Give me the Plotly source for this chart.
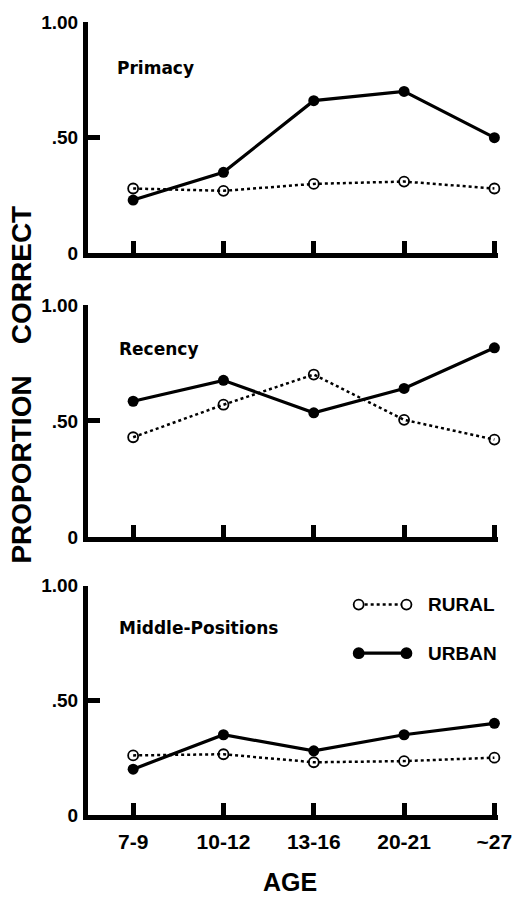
"""
Proportion correct by age: rural vs urban, three serial-position panels.
"""

import plotly.graph_objects as go
from plotly.subplots import make_subplots

AGES = ["7-9", "10-12", "13-16", "20-21", "~27"]
PANELS = ["Primacy", "Recency", "Middle-Positions"]

RURAL_PRIMACY = [0.28, 0.27, 0.30, 0.31, 0.28]
URBAN_PRIMACY = [0.23, 0.35, 0.66, 0.70, 0.50]
RURAL_RECENCY = [0.43, 0.57, 0.70, 0.505, 0.42]
URBAN_RECENCY = [0.585, 0.675, 0.535, 0.64, 0.815]
RURAL_MIDDLE = [0.26, 0.265, 0.23, 0.235, 0.25]
URBAN_MIDDLE = [0.20, 0.35, 0.28, 0.35, 0.40]

Y_TICKS = [0, 0.5, 1.0]
Y_TICK_TEXT = ["0", ".50", "1.00"]

SERIES = [
    (RURAL_PRIMACY, URBAN_PRIMACY),
    (RURAL_RECENCY, URBAN_RECENCY),
    (RURAL_MIDDLE, URBAN_MIDDLE),
]

FONT = "Liberation Sans"
TITLE_FONT = "DejaVu Sans"

W, H = 524, 897
ML, MR, MT, MB = 88, 24, 16, 82
PW, PH = W - ML - MR, H - MT - MB


def px_x(x):
    return (x - ML) / PW


def px_y(y):
    return (H - MB - y) / PH


DOMAINS = [
    [px_y(249), 1.0],
    [px_y(535), px_y(301)],
    [0.0, px_y(584)],
]

fig = make_subplots(rows=3, cols=1)

for i, (rural, urban) in enumerate(SERIES, start=1):
    fig.add_trace(go.Scatter(
        x=list(range(len(AGES))), y=rural, mode="lines+markers",
        line=dict(color="black", width=2.5, dash="dot"),
        marker=dict(symbol="circle-open", size=10, color="black", line=dict(width=1.8)),
        cliponaxis=False, showlegend=False, name="RURAL",
    ), row=i, col=1)
    fig.add_trace(go.Scatter(
        x=list(range(len(AGES))), y=urban, mode="lines+markers",
        line=dict(color="black", width=3.2),
        marker=dict(symbol="circle", size=11, color="black"),
        cliponaxis=False, showlegend=False, name="URBAN",
    ), row=i, col=1)

for i in range(1, 4):
    fig.update_xaxes(
        row=i, col=1,
        range=[-0.5, 4.04],
        tickvals=list(range(len(AGES))), ticktext=AGES,
        showticklabels=(i == 3),
        ticks="inside", ticklen=12, tickwidth=5, tickcolor="black",
        showline=True, linewidth=5, linecolor="black",
        showgrid=False, zeroline=False,
        tickfont=dict(family=FONT, size=21, color="black", weight="bold"),
        ticklabelstandoff=4,
    )
    fig.update_yaxes(
        row=i, col=1,
        domain=DOMAINS[i - 1],
        range=[0, 1.0],
        tickvals=Y_TICKS, ticktext=Y_TICK_TEXT,
        ticks="inside", ticklen=12, tickwidth=5, tickcolor="black",
        showline=True, linewidth=5, linecolor="black",
        showgrid=False, zeroline=False,
        tickfont=dict(family=FONT, size=19, color="black", weight="bold"),
        ticklabelstandoff=1,
    )

# panel labels
label_pos = [(115, 62), (117, 345), (117, 627)]
for name, (lx, ly) in zip(PANELS, label_pos):
    fig.add_annotation(
        text=name, xref="paper", yref="paper", x=px_x(lx), y=px_y(ly),
        xanchor="left", yanchor="middle", showarrow=False,
        font=dict(family=TITLE_FONT, size=17, color="black", weight="bold"),
    )

# legend drawn by hand: line sample with a marker at each end
legend_rows = [("RURAL", 603, "dot", 2.5, "white"), ("URBAN", 652, "solid", 3.2, "black")]
for text, ly, dash, lw, fill in legend_rows:
    fig.add_shape(type="line", xref="paper", yref="paper",
                  x0=px_x(360), x1=px_x(408), y0=px_y(ly), y1=px_y(ly),
                  line=dict(color="black", width=lw, dash=dash))
    for cx in (360, 408):
        fig.add_shape(type="circle", xref="paper", yref="paper",
                      xsizemode="pixel", ysizemode="pixel",
                      xanchor=px_x(cx), yanchor=px_y(ly),
                      x0=-5, x1=5, y0=-5, y1=5,
                      fillcolor=fill, line=dict(color="black", width=1.8))
    fig.add_annotation(
        text=text, xref="paper", yref="paper", x=px_x(428), y=px_y(ly),
        xanchor="left", yanchor="middle", showarrow=False,
        font=dict(family=FONT, size=19, color="black", weight="bold"),
    )

fig.add_annotation(
    text="PROPORTION    CORRECT", xref="paper", yref="paper",
    x=px_x(21), y=px_y(381), textangle=-90,
    xanchor="center", yanchor="middle", showarrow=False,
    font=dict(family=FONT, size=28, color="black", weight="bold"),
)
fig.add_annotation(
    text="AGE", xref="paper", yref="paper",
    x=px_x(291), y=px_y(883),
    xanchor="center", yanchor="middle", showarrow=False,
    font=dict(family=FONT, size=25, color="black", weight="bold"),
)

fig.update_layout(
    width=W, height=H,
    margin=dict(l=ML, r=MR, t=MT, b=MB),
    plot_bgcolor="white", paper_bgcolor="white",
    showlegend=False,
)

fig.write_html("out.html", config={"displayModeBar": False},
               post_script="document.body.style.margin='0';")
